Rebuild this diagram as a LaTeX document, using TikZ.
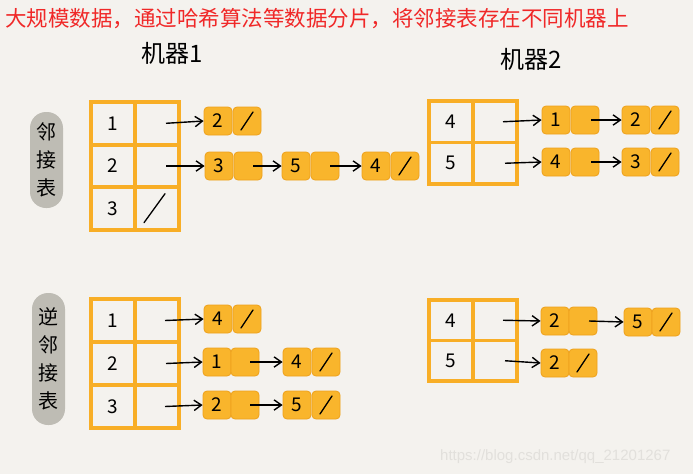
\documentclass[tikz,border=0pt]{standalone}
\usepackage{fontspec}
\newfontfamily\cjk{Noto Sans CJK SC}
\newfontfamily\wmfont{Liberation Sans}
\usetikzlibrary{arrows.meta}
\definecolor{bg}{HTML}{F4F2EE}
\definecolor{tblorange}{HTML}{F8AE26}
\definecolor{cellfill}{HTML}{F9B52C}
\definecolor{celledge}{HTML}{EEA11C}
\definecolor{pillgray}{HTML}{BEBCB4}
\definecolor{titlered}{HTML}{F02828}
\definecolor{wmgray}{HTML}{E2E0DC}
\tikzset{
  tcell/.style={draw=tblorange, line width=3.5pt, minimum width=44pt, minimum height=#1,
    inner sep=0pt, font=\cjk\fontsize{19}{19}\selectfont},
  tcell/.default=43pt,
  lcell/.style={fill=cellfill, draw=celledge, line width=0.8pt, rounded corners=4pt,
    minimum size=28pt, inner sep=0pt, font=\cjk\fontsize{19}{19}\selectfont},
  arr/.style={line width=1.4pt, -{Straight Barb[angle=70:9pt,line width=1.4pt]}},
  nul/.style={line width=1.3pt, line cap=round},
  pill/.style={fill=pillgray, rounded corners=16pt, minimum width=33pt, inner sep=0pt,
    align=center, font=\cjk\fontsize{20}{28}\selectfont},
  head/.style={font=\cjk\fontsize{24}{26}\selectfont}
}
\newcommand\nilline[1]{\draw[nul] ([shift={(-6,9)}]#1.center) -- ([shift={(6,-9)}]#1.center);}

\begin{document}
\begin{tikzpicture}[x=1pt,y=-1pt]
\fill[bg] (0,0) rectangle (693,474);
\useasboundingbox (0,0) rectangle (693,474);
%draw title and headers:
\node[anchor=west, inner sep=0pt, text=titlered, font=\cjk\fontsize{21.5}{24}\selectfont] (title) at (5,19)
  {大规模数据，通过哈希算法等数据分片，将邻接表存在不同机器上};
\node[head] (m1) at (172,53) {机器1};
\node[head] (m2) at (531,59) {机器2};
%draw side labels:
\node[pill, minimum height=96pt] (adj) at (46.5,160) {邻\\接\\表};
\node[pill, minimum height=132pt] (radj) at (48.5,359) {逆\\邻\\接\\表};

%machine 1, adjacency list:
\node[tcell] (a1k) at (113,123.3) {1};
\node[tcell] (a1v) at (157,123.3) {};
\node[tcell] (a2k) at (113,166) {2};
\node[tcell] (a2v) at (157,166) {};
\node[tcell] (a3k) at (113,208.7) {3};
\node[tcell] (a3v) at (157,208.7) {};
\draw[nul] ([shift={(-13,14)}]a3v.center) -- ([shift={(8,-15)}]a3v.center);
\node[lcell] (a1p1) at (218,121) {2};
\node[lcell] (a1q1) at (247,121) {};
\nilline{a1q1}
\node[lcell] (a2p1) at (219,166) {3};
\node[lcell] (a2q1) at (248,166) {};
\node[lcell] (a2p2) at (296,166) {5};
\node[lcell] (a2q2) at (325,166) {};
\node[lcell] (a2p3) at (376,166) {4};
\node[lcell] (a2q3) at (405,166) {};
\nilline{a2q3}
\draw[arr] ([xshift=9pt]a1v.center) -- (a1p1.west);
\draw[arr] ([xshift=9pt]a2v.center) -- (a2p1.west);
\draw[arr] ([xshift=5pt]a2q1.center) -- (a2p2.west);
\draw[arr] ([xshift=5pt]a2q2.center) -- (a2p3.west);

%machine 2, adjacency list:
\node[tcell=41.5pt] (b4k) at (451,121.75) {4};
\node[tcell=41.5pt] (b4v) at (495,121.75) {};
\node[tcell=41.5pt] (b5k) at (451,163.25) {5};
\node[tcell=41.5pt] (b5v) at (495,163.25) {};
\node[lcell] (b4p1) at (556,120) {1};
\node[lcell] (b4q1) at (585,120) {};
\node[lcell] (b4p2) at (636,120) {2};
\node[lcell] (b4q2) at (665,120) {};
\nilline{b4q2}
\node[lcell] (b5p1) at (556,162) {4};
\node[lcell] (b5q1) at (585,162) {};
\node[lcell] (b5p2) at (636,162) {3};
\node[lcell] (b5q2) at (665,162) {};
\nilline{b5q2}
\draw[arr] ([xshift=8pt]b4v.center) -- (b4p1.west);
\draw[arr] ([xshift=10pt]b5v.center) -- (b5p1.west);
\draw[arr] ([xshift=6pt]b4q1.center) -- (b4p2.west);
\draw[arr] ([xshift=6pt]b5q1.center) -- (b5p2.west);

%machine 1, inverse adjacency list:
\node[tcell] (c1k) at (113,320.5) {1};
\node[tcell] (c1v) at (157,320.5) {};
\node[tcell] (c2k) at (113,363.5) {2};
\node[tcell] (c2v) at (157,363.5) {};
\node[tcell] (c3k) at (113,406.5) {3};
\node[tcell] (c3v) at (157,406.5) {};
\node[lcell] (c1p1) at (218,319) {4};
\node[lcell] (c1q1) at (247,319) {};
\nilline{c1q1}
\node[lcell] (c2p1) at (217,362) {1};
\node[lcell] (c2q1) at (245,362) {};
\node[lcell] (c2p2) at (297,362) {4};
\node[lcell] (c2q2) at (326,362) {};
\nilline{c2q2}
\node[lcell] (c3p1) at (217,405) {2};
\node[lcell] (c3q1) at (245,405) {};
\node[lcell] (c3p2) at (297,405) {5};
\node[lcell] (c3q2) at (326,405) {};
\nilline{c3q2}
\draw[arr] ([xshift=8pt]c1v.center) -- (c1p1.west);
\draw[arr] ([xshift=9pt]c2v.center) -- (c2p1.west);
\draw[arr] ([xshift=8pt]c3v.center) -- (c3p1.west);
\draw[arr] ([xshift=5pt]c2q1.center) -- (c2p2.west);
\draw[arr] ([xshift=5pt]c3q1.center) -- (c3p2.west);

%machine 2, inverse adjacency list:
\node[tcell=40.5pt] (d4k) at (451,320.25) {4};
\node[tcell=40.5pt] (d4v) at (495,320.25) {};
\node[tcell=40.5pt] (d5k) at (451,360.75) {5};
\node[tcell=40.5pt] (d5v) at (495,360.75) {};
\node[lcell] (d4p1) at (555,321) {2};
\node[lcell] (d4q1) at (583,321) {};
\node[lcell] (d4p2) at (638,322) {5};
\node[lcell] (d4q2) at (666,322) {};
\nilline{d4q2}
\node[lcell] (d5p1) at (555,363) {2};
\node[lcell] (d5q1) at (583,363) {};
\nilline{d5q1}
\draw[arr] ([xshift=8pt]d4v.center) -- (d4p1.west);
\draw[arr] ([xshift=10pt]d5v.center) -- (d5p1.west);
\draw[arr] ([xshift=6pt]d4q1.center) -- (d4p2.west);

%watermark:
\node[anchor=west, inner sep=0pt, text=wmgray, font=\wmfont\fontsize{15}{15}\selectfont] (wm) at (440,457)
  {https://blog.csdn.net/qq\_21201267};
\end{tikzpicture}
\end{document}
